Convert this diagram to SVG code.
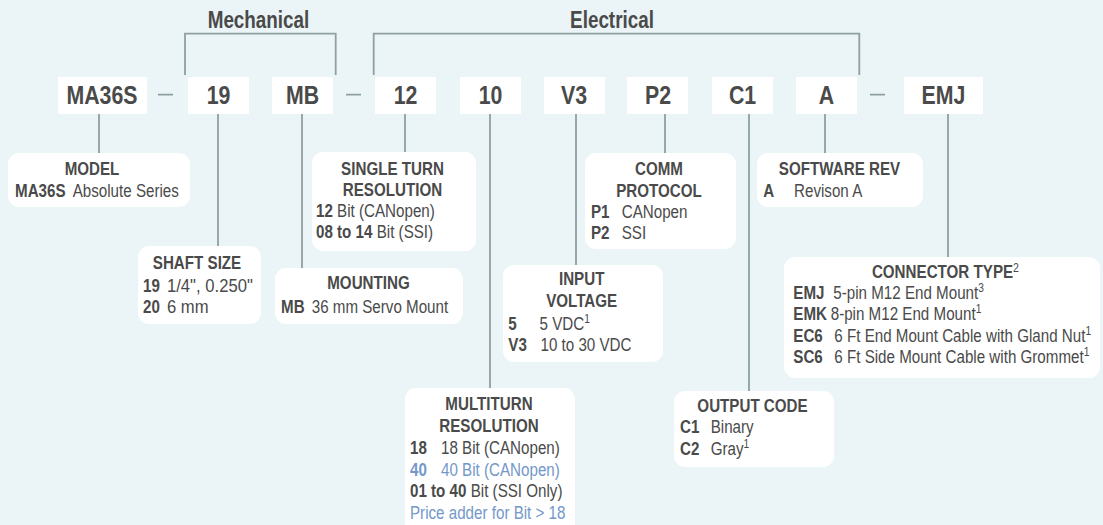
<svg xmlns="http://www.w3.org/2000/svg" width="1103" height="525" viewBox="0 0 1103 525">
<style>
.bg{fill:#ebf4f6}
.box{fill:#ffffff}
.ln{fill:none;stroke:#8fa0a0;stroke-width:1.8}
text{font-family:"Liberation Sans",Arial,sans-serif;fill:#4a4a4a}
.code{font-size:26px;font-weight:bold;text-anchor:middle}
.hdr{font-size:23px;font-weight:bold;text-anchor:middle}
.ti{font-size:18.5px;font-weight:bold;text-anchor:middle}
.tx{font-size:18.5px}
.b{font-weight:bold}
.blue{fill:#7398c9}
.sup{font-size:12.5px}
.supt{font-size:13px}
</style>
<rect class="bg" x="0" y="0" width="1103" height="525"/>

<g id="headers">
<text class="hdr" transform="translate(258.5 27.7) scale(.82 1)">Mechanical</text>
<text class="hdr" transform="translate(612 27.7) scale(.82 1)">Electrical</text>
</g>

<g id="connectors" class="ln">
<path d="M185 75V33.7H335.7V75"/>
<path d="M373.7 75V33.7H859.3V75"/>
<path d="M158 94.7H173M346 94.7H361M870 94.7H885"/>
<path d="M99 114V153M218 114V246M302 114V268M405 114V152M490 114V388M576 114V265M665 114V153M749 114V391M825 114V153M948 114V257"/>
</g>

<g id="code-MA36S"><rect class="box" x="58" y="77" width="89" height="37"/><text class="code" transform="translate(102 104) scale(.82 1)">MA36S</text></g>
<g id="code-19"><rect class="box" x="188" y="77" width="61" height="37"/><text class="code" transform="translate(218.5 104) scale(.82 1)">19</text></g>
<g id="code-MB"><rect class="box" x="272" y="77" width="61" height="37"/><text class="code" transform="translate(302.5 104) scale(.82 1)">MB</text></g>
<g id="code-12"><rect class="box" x="375" y="77" width="61" height="37"/><text class="code" transform="translate(405.5 104) scale(.82 1)">12</text></g>
<g id="code-10"><rect class="box" x="460" y="77" width="61" height="37"/><text class="code" transform="translate(490.5 104) scale(.82 1)">10</text></g>
<g id="code-V3"><rect class="box" x="544" y="77" width="61" height="37"/><text class="code" transform="translate(574 104) scale(.82 1)">V3</text></g>
<g id="code-P2"><rect class="box" x="627" y="77" width="61" height="37"/><text class="code" transform="translate(658 104) scale(.82 1)">P2</text></g>
<g id="code-C1"><rect class="box" x="712" y="77" width="61" height="37"/><text class="code" transform="translate(742.5 104) scale(.82 1)">C1</text></g>
<g id="code-A"><rect class="box" x="796" y="77" width="61" height="37"/><text class="code" transform="translate(826.5 104) scale(.82 1)">A</text></g>
<g id="code-EMJ"><rect class="box" x="904" y="77" width="79" height="37"/><text class="code" transform="translate(943.5 104) scale(.82 1)">EMJ</text></g>

<g id="model">
<rect class="box" x="8" y="153" width="182" height="54" rx="11"/>
<text class="ti" transform="translate(92 175) scale(.82 1)">MODEL</text>
<text class="tx b" transform="translate(15 196.7) scale(.82 1)">MA36S</text>
<text class="tx" transform="translate(72.7 196.7) scale(.82 1)">Absolute Series</text>
</g>

<g id="shaft-size">
<rect class="box" x="138" y="246" width="123" height="78" rx="11"/>
<text class="ti" transform="translate(197 269.3) scale(.82 1)">SHAFT SIZE</text>
<text class="tx b" transform="translate(143 292) scale(.82 1)">19</text>
<text class="tx" transform="translate(167 292) scale(.9 1)">1/4", 0.250"</text>
<text class="tx b" transform="translate(143 313.3) scale(.82 1)">20</text>
<text class="tx" transform="translate(167 313.3) scale(.9 1)">6 mm</text>
</g>

<g id="mounting">
<rect class="box" x="275" y="268" width="188" height="56" rx="11"/>
<text class="ti" transform="translate(368.5 289.3) scale(.82 1)">MOUNTING</text>
<text class="tx b" transform="translate(281 313) scale(.82 1)">MB</text>
<text class="tx" transform="translate(311.7 313) scale(.82 1)">36 mm Servo Mount</text>
</g>

<g id="single-turn">
<rect class="box" x="312" y="152" width="164" height="99" rx="11"/>
<text class="ti" transform="translate(392.5 175) scale(.82 1)">SINGLE TURN</text>
<text class="ti" transform="translate(392.5 195.7) scale(.82 1)">RESOLUTION</text>
<text class="tx" transform="translate(316 217) scale(.82 1)"><tspan class="b">12</tspan> Bit (CANopen)</text>
<text class="tx" transform="translate(316 237.5) scale(.82 1)"><tspan class="b">08 to 14</tspan> Bit (SSI)</text>
</g>

<g id="multiturn">
<rect class="box" x="405" y="388" width="170" height="150" rx="11"/>
<text class="ti" transform="translate(489 410) scale(.82 1)">MULTITURN</text>
<text class="ti" transform="translate(489 431.7) scale(.82 1)">RESOLUTION</text>
<text class="tx b" transform="translate(410 453.5) scale(.82 1)">18</text>
<text class="tx" transform="translate(441 453.5) scale(.82 1)">18 Bit (CANopen)</text>
<text class="tx b blue" transform="translate(410 475.5) scale(.82 1)">40</text>
<text class="tx blue" transform="translate(441 475.5) scale(.82 1)">40 Bit (CANopen)</text>
<text class="tx" transform="translate(410 497) scale(.82 1)"><tspan class="b">01 to 40</tspan> Bit (SSI Only)</text>
<text class="tx blue" transform="translate(410 518.5) scale(.82 1)">Price adder for Bit &gt; 18</text>
</g>

<g id="input-voltage">
<rect class="box" x="503" y="265" width="160" height="97" rx="11"/>
<text class="ti" transform="translate(581.7 285) scale(.82 1)">INPUT</text>
<text class="ti" transform="translate(581.7 307) scale(.82 1)">VOLTAGE</text>
<text class="tx b" transform="translate(508.3 330) scale(.82 1)">5</text>
<text class="tx" transform="translate(539.5 330) scale(.82 1)">5 VDC<tspan class="sup" dy="-7">1</tspan></text>
<text class="tx b" transform="translate(508.3 351) scale(.82 1)">V3</text>
<text class="tx" transform="translate(540.5 351) scale(.82 1)">10 to 30 VDC</text>
</g>

<g id="comm-protocol">
<rect class="box" x="585" y="153" width="151" height="96" rx="11"/>
<text class="ti" transform="translate(659 175) scale(.82 1)">COMM</text>
<text class="ti" transform="translate(659 196.7) scale(.82 1)">PROTOCOL</text>
<text class="tx b" transform="translate(591 218.3) scale(.82 1)">P1</text>
<text class="tx" transform="translate(621.7 218.3) scale(.82 1)">CANopen</text>
<text class="tx b" transform="translate(591 238.7) scale(.82 1)">P2</text>
<text class="tx" transform="translate(621.7 238.7) scale(.82 1)">SSI</text>
</g>

<g id="output-code">
<rect class="box" x="674" y="391" width="160" height="76" rx="11"/>
<text class="ti" transform="translate(752.5 411.7) scale(.82 1)">OUTPUT CODE</text>
<text class="tx b" transform="translate(680 433.3) scale(.82 1)">C1</text>
<text class="tx" transform="translate(710.7 433.3) scale(.82 1)">Binary</text>
<text class="tx b" transform="translate(680 455) scale(.82 1)">C2</text>
<text class="tx" transform="translate(710.7 455) scale(.82 1)">Gray<tspan class="sup" dy="-7">1</tspan></text>
</g>

<g id="software-rev">
<rect class="box" x="757" y="153" width="166" height="54" rx="11"/>
<text class="ti" transform="translate(839.5 175) scale(.82 1)">SOFTWARE REV</text>
<text class="tx b" transform="translate(763.3 196.7) scale(.82 1)">A</text>
<text class="tx" transform="translate(794 196.7) scale(.82 1)">Revison A</text>
</g>

<g id="connector-type">
<rect class="box" x="784" y="257" width="316" height="121" rx="11"/>
<text class="ti" transform="translate(942.5 277.8) scale(.82 1)">CONNECTOR TYPE</text>
<text class="tx supt" transform="translate(1013 272.3) scale(.82 1)">2</text>
<text class="tx b" transform="translate(793.3 298.5) scale(.82 1)">EMJ</text>
<text class="tx" transform="translate(833.3 298.5) scale(.82 1)">5-pin M12 End Mount<tspan class="sup" dy="-7">3</tspan></text>
<text class="tx b" transform="translate(793.3 320) scale(.82 1)">EMK</text>
<text class="tx" transform="translate(830.7 320) scale(.82 1)">8-pin M12 End Mount<tspan class="sup" dy="-7">1</tspan></text>
<text class="tx b" transform="translate(793.3 341.7) scale(.82 1)">EC6</text>
<text class="tx" transform="translate(834.3 341.7) scale(.82 1)">6 Ft End Mount Cable with Gland Nut<tspan class="sup" dy="-7">1</tspan></text>
<text class="tx b" transform="translate(793.3 363.3) scale(.82 1)">SC6</text>
<text class="tx" transform="translate(834.3 363.3) scale(.82 1)">6 Ft Side Mount Cable with Grommet<tspan class="sup" dy="-7">1</tspan></text>
</g>
</svg>
